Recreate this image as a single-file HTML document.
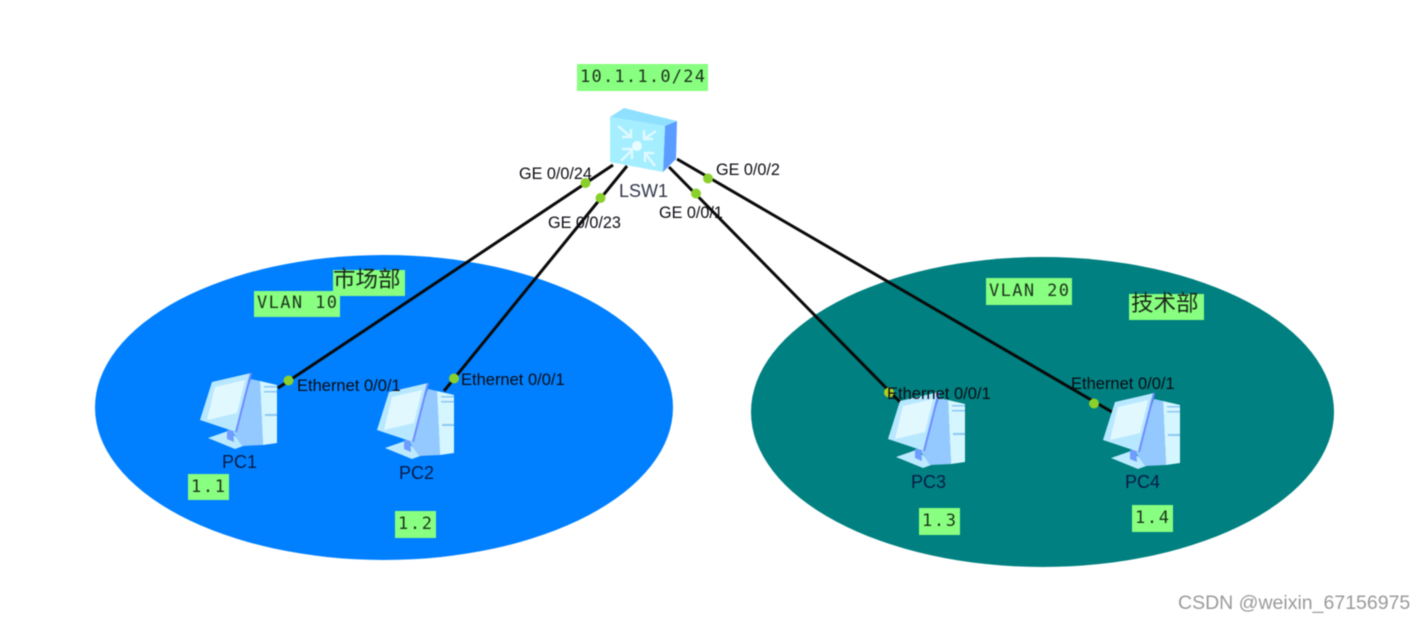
<!DOCTYPE html>
<html>
<head>
<meta charset="utf-8">
<style>
html,body{margin:0;padding:0;background:#fff;width:1425px;height:622px;overflow:hidden}
svg{display:block;filter:blur(0.4px)}
.s{font-family:"Liberation Sans",sans-serif;font-size:16.2px;fill:#0c0c14}
.e{font-family:"Liberation Sans",sans-serif;font-size:16.5px;fill:#0c0c14}
.p{font-family:"Liberation Sans",sans-serif;font-size:18px;fill:#061c48}
.m{font-family:"DejaVu Sans Mono","Liberation Mono",monospace;font-size:17px;fill:#1c341c}
.c{font-family:"Liberation Sans","Noto Sans CJK SC",sans-serif;font-size:22.5px;fill:#1a2a1a}
.g{fill:#88ff80}
.d{fill:#8ad02c}
</style>
</head>
<body>
<svg width="1425" height="622" viewBox="0 0 1425 622" xmlns="http://www.w3.org/2000/svg">
<defs>
<g id="pc">
  <polygon points="8,65 28,58 46,72 35,76" fill="#bdeaff"/>
  <polygon points="51,6 60,8 63,72 42,73 33,60" fill="#93c9ff"/>
  <polygon points="27,57 33,57 34,69 27,66" fill="#6f9cff"/>
  <polygon points="60,8 77,12 77,70 63,72" fill="#d6f6ff"/>
  <rect x="65" y="41" width="12" height="2" fill="#8cc8f4"/>
  <rect x="64" y="13" width="13" height="1.500" fill="#8cc8f4"/>
  <rect x="64" y="18" width="13" height="1.500" fill="#8cc8f4"/>
  <polygon points="12,9 51,0 36,59 0,47" fill="#b8e8ff"/>
  <polygon points="15,14 45,7 37,40 7,47" fill="#e2f8ff"/>
  <line x1="51" y1="0" x2="36" y2="59" stroke="#6f8cff" stroke-width="2"/>
</g>
</defs>

<rect width="1425" height="622" fill="#fff"/>
<ellipse cx="384" cy="407.5" rx="289" ry="152.5" fill="#0080ff"/>
<ellipse cx="1042.5" cy="412" rx="291.5" ry="155" fill="#008080"/>

<g stroke="#0a0a0a" stroke-width="3" fill="none">
  <line x1="613" y1="165" x2="278" y2="388"/>
  <line x1="627" y1="166" x2="444" y2="391"/>
  <line x1="669" y1="167" x2="900" y2="402"/>
  <line x1="677" y1="159" x2="1112" y2="412"/>
</g>

<!-- Switch -->
<polygon points="610,117 624,108 677,121 665,126" fill="#8fe0ff"/>
<polygon points="665,126 677,121 676,159 663,172" fill="#5a9cff"/>
<polygon points="610,117 665,126 663,172 610,162" fill="#a4eeff"/>
<g stroke="#dff9ff" stroke-width="2.500" fill="none">
  <path d="M618,126 L631,137 M631,129 V137 H622"/>
  <path d="M656,131 L644,139 M644,130 V139 H653"/>
  <path d="M621,161 L632,150 M622,149 H632 V159"/>
  <path d="M655,166 L645,153 M645,162 V153 H654"/>
</g>
<circle cx="637" cy="146" r="5" fill="#e8fcff"/>

<use href="#pc" x="200" y="373"/>
<use href="#pc" x="377" y="383"/>
<use href="#pc" x="888" y="392"/>
<use href="#pc" x="1103" y="393"/>

<g class="d">
  <circle cx="585.500" cy="183" r="5"/>
  <circle cx="600.500" cy="198" r="5"/>
  <circle cx="696" cy="193.500" r="5"/>
  <circle cx="708" cy="178.500" r="5"/>
  <circle cx="288.500" cy="380.500" r="5"/>
  <circle cx="454" cy="378.500" r="5"/>
  <circle cx="889" cy="392.500" r="5" style="fill:#b0d020"/>
  <circle cx="1094" cy="403.500" r="5"/>
</g>

<g class="g">
  <rect x="577" y="64" width="131" height="27"/>
  <rect x="254" y="291" width="86" height="26"/>
  <rect x="333" y="270" width="72" height="26"/>
  <rect x="188" y="474" width="41" height="26"/>
  <rect x="395" y="511" width="41" height="27"/>
  <rect x="919" y="508" width="41" height="27"/>
  <rect x="1132" y="505" width="41" height="27"/>
  <rect x="986" y="278" width="86" height="27"/>
  <rect x="1129" y="294" width="75" height="26"/>
</g>

<text class="m" x="580" y="82" textLength="125" lengthAdjust="spacing">10.1.1.0/24</text>
<text class="m" x="257" y="308" textLength="80" lengthAdjust="spacing">VLAN 10</text>
<text class="m" x="989" y="296" textLength="80" lengthAdjust="spacing">VLAN 20</text>
<text class="m" x="191" y="492" textLength="34" lengthAdjust="spacing">1.1</text>
<text class="m" x="398" y="529" textLength="34" lengthAdjust="spacing">1.2</text>
<text class="m" x="922" y="526" textLength="34" lengthAdjust="spacing">1.3</text>
<text class="m" x="1135" y="523" textLength="34" lengthAdjust="spacing">1.4</text>
<text class="c" x="333" y="287">市场部</text>
<text class="c" x="1131" y="311">技术部</text>

<text class="s" x="519" y="179">GE 0/0/24</text>
<text class="s" x="548" y="228">GE 0/0/23</text>
<text class="s" x="659" y="218">GE 0/0/1</text>
<text class="s" x="716" y="175">GE 0/0/2</text>
<text class="p" x="619" y="197" style="fill:#33384a">LSW1</text>

<text class="e" x="297" y="391">Ethernet 0/0/1</text>
<text class="e" x="461" y="385">Ethernet 0/0/1</text>
<text class="e" x="887" y="399">Ethernet 0/0/1</text>
<text class="e" x="1071" y="389">Ethernet 0/0/1</text>

<text class="p" x="222" y="468">PC1</text>
<text class="p" x="399" y="479">PC2</text>
<text class="p" x="911" y="488">PC3</text>
<text class="p" x="1125" y="488">PC4</text>

<text x="1178" y="609" style="font-family:'Liberation Sans',sans-serif;font-size:19.500px;fill:#9a9a9a">CSDN @weixin_67156975</text>
</svg>
</body>
</html>
